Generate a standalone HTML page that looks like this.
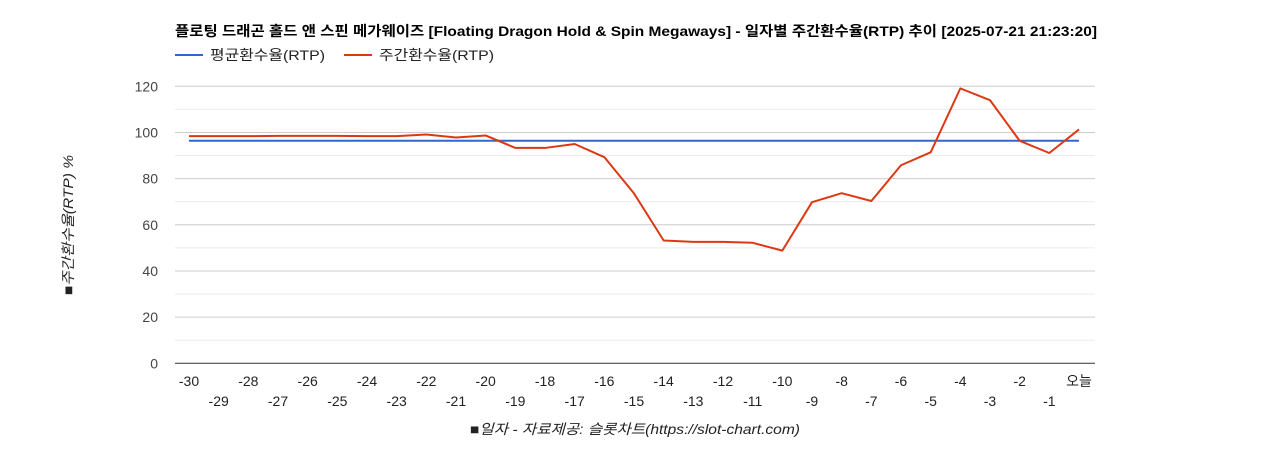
<!DOCTYPE html>
<html><head><meta charset="utf-8"><style>
body{margin:0;background:#fff;}
svg{display:block;font-family:"Liberation Sans","Noto Sans CJK KR",sans-serif;}
</style></head><body>
<svg id="c" width="1268" height="450">
<text x="636" y="36" text-anchor="middle" font-size="14" font-weight="bold" fill="#000" textLength="922" lengthAdjust="spacingAndGlyphs">플로팅 드래곤 홀드 앤 스핀 메가웨이즈 [Floating Dragon Hold &amp; Spin Megaways] - 일자별 주간환수율(RTP) 추이 [2025-07-21 21:23:20]</text>
<g><line x1="175" y1="55" x2="203" y2="55" stroke="#3366cc" stroke-width="2"/><text x="210" y="60" font-size="14" fill="#222" textLength="115" lengthAdjust="spacingAndGlyphs">평균환수율(RTP)</text></g>
<g><line x1="344" y1="55" x2="372" y2="55" stroke="#dc3912" stroke-width="2"/><text x="379" y="60" font-size="14" fill="#222" textLength="115" lengthAdjust="spacingAndGlyphs">주간환수율(RTP)</text></g>
<g id="grid"></g><g id="yt"></g><g id="xt"></g><g id="series"></g>
<text transform="translate(73,225) rotate(-90)" text-anchor="middle" font-size="14" font-style="italic" fill="#222" textLength="140" lengthAdjust="spacingAndGlyphs">■주간환수율(RTP) %</text>
<text x="635" y="434" text-anchor="middle" font-size="14" font-style="italic" fill="#222" textLength="330" lengthAdjust="spacingAndGlyphs">■일자 - 자료제공: 슬롯차트(https://slot-chart.com)</text>
</svg>
<script>
const categories=["-30","-29","-28","-27","-26","-25","-24","-23","-22","-21","-20","-19","-18","-17","-16","-15","-14","-13","-12","-11","-10","-9","-8","-7","-6","-5","-4","-3","-2","-1","오늘"];
const weeklyRtp=[98.4,98.4,98.4,98.5,98.5,98.5,98.4,98.4,99.1,97.8,98.7,93.3,93.3,95.0,89.3,73.6,53.2,52.6,52.6,52.2,48.8,69.8,73.7,70.3,85.8,91.4,119.1,114.0,96.4,91.1,101.3];
const averageRtp=96.4;
const yTicks=[0,20,40,60,80,100,120];
const NS="http://www.w3.org/2000/svg";
const x0=189,x1=1079,yBase=363.3,yTop=86.3,vMax=120;
const xs=i=>x0+i*(x1-x0)/(categories.length-1);
const ys=v=>yBase-(v/vMax)*(yBase-yTop);
function mk(t,a,p){const e=document.createElementNS(NS,t);for(const k in a)e.setAttribute(k,a[k]);p.appendChild(e);return e;}
const grid=document.getElementById('grid'),yt=document.getElementById('yt'),xt=document.getElementById('xt'),se=document.getElementById('series');
for(let v=0;v<=vMax;v+=10){const y=ys(v);const l=mk('line',{x1:175,x2:1095,y1:y,y2:y,stroke:v===0?'#333':(v%20?'#ebebeb':'#ccc'),'stroke-width':1},grid);

}
yTicks.forEach(v=>{const t=mk('text',{x:158,y:ys(v)+5,'text-anchor':'end','font-size':14,fill:'#444'},yt);t.textContent=v;

});
categories.forEach((c,i)=>{const t=mk('text',{x:xs(i),y:i%2?406:386,'text-anchor':'middle','font-size':14,fill:'#222'},xt);t.textContent=c;

});
const avg=mk('line',{x1:xs(0),x2:xs(categories.length-1),y1:ys(averageRtp),y2:ys(averageRtp),stroke:'#3366cc','stroke-width':2},se);


const wl=mk('polyline',{points:weeklyRtp.map((v,i)=>xs(i)+','+ys(v)).join(' '),fill:'none',stroke:'#dc3912','stroke-width':2,'stroke-linejoin':'round'},se);


</script>
</body></html>
